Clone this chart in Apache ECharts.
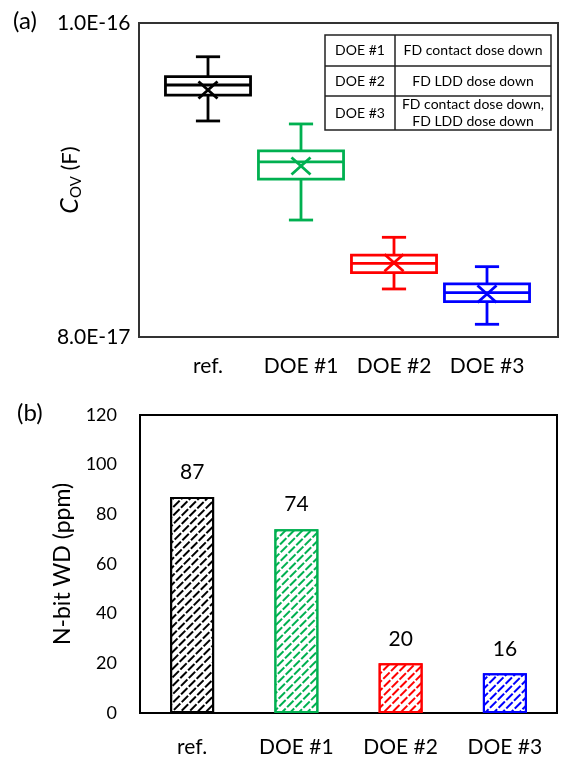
<!DOCTYPE html>
<html><head><meta charset="utf-8">
<script src="https://cdn.jsdelivr.net/npm/echarts@6/dist/echarts.min.js"></script>
<style>html,body{margin:0;padding:0;background:#fff}#c{width:563px;height:759px}</style>
</head><body><div id="c"></div>
<script>
// ---------- (a) C_OV box plot data (values in F) ----------
const boxCategories = ['ref.', 'DOE #1', 'DOE #2', 'DOE #3'];
const whiskerLow  = [9.376e-17, 8.745e-17, 8.306e-17, 8.081e-17];
const quartile1   = [9.541e-17, 9.006e-17, 8.410e-17, 8.225e-17];
const medians     = [9.605e-17, 9.115e-17, 8.469e-17, 8.283e-17];
const quartile3   = [9.658e-17, 9.185e-17, 8.522e-17, 8.338e-17];
const whiskerHigh = [9.785e-17, 9.357e-17, 8.635e-17, 8.448e-17];
const means       = [9.573e-17, 9.089e-17, 8.473e-17, 8.274e-17];
const covTicks    = [8.0e-17, 1.0e-16];

// ---------- legend table ----------
const doeNames = ['DOE #1', 'DOE #2', 'DOE #3'];
const doeDescriptions = ['FD contact dose down', 'FD LDD dose down', 'FD contact dose down,\nFD LDD dose down'];

// ---------- (b) N-bit WD bar data ----------
const wdCategories = ['ref.', 'DOE #1', 'DOE #2', 'DOE #3'];
const wdValues = [87, 74, 20, 16];
const wdTicks = [0, 20, 40, 60, 80, 100, 120];

// ---------- styles ----------
const seriesColors = ['#000000', '#00b050', '#ff0000', '#0000ff'];
const FONT = 'Lato';
const UNIT = 1e-17;
const toUnit = v => Math.round(v / UNIT * 10000) / 10000;

const boxData = boxCategories.map((c, i) => [i,
  toUnit(whiskerLow[i]), toUnit(quartile1[i]), toUnit(medians[i]),
  toUnit(quartile3[i]), toUnit(whiskerHigh[i]), toUnit(means[i])]);

function renderBox(params, api) {
  const x = api.value(0);
  const col = seriesColors[params.dataIndex];
  const band = api.size([1, 0])[0];
  const bw = band * 0.915, cw = band * 0.26;
  const p = k => api.coord([x, api.value(k)]);
  const lo = p(1), q1 = p(2), md = p(3), q3 = p(4), hi = p(5), mn = p(6);
  const cx = lo[0];
  const ls = { stroke: col, lineWidth: 2.8, fill: null };
  const line = (x1, y1, x2, y2) => ({ type: 'line', shape: { x1, y1, x2, y2 }, style: ls });
  const mx = 9.5, my = 8.5;
  return { type: 'group', children: [
    line(cx, q3[1], cx, hi[1]),
    line(cx, q1[1], cx, lo[1]),
    line(cx - cw / 2, hi[1], cx + cw / 2, hi[1]),
    line(cx - cw / 2, lo[1], cx + cw / 2, lo[1]),
    { type: 'rect', shape: { x: cx - bw / 2, y: q3[1], width: bw, height: q1[1] - q3[1] },
      style: { stroke: col, lineWidth: 2.8, fill: '#fff' } },
    line(cx - bw / 2, md[1], cx + bw / 2, md[1]),
    line(cx - mx, mn[1] - my, cx + mx, mn[1] + my),
    line(cx - mx, mn[1] + my, cx + mx, mn[1] - my)
  ]};
}

const barData = wdValues.map((v, i) => ({
  value: v,
  itemStyle: {
    color: '#ffffff', borderColor: seriesColors[i], borderWidth: 2,
    decal: { symbol: 'rect', symbolSize: 1, color: seriesColors[i],
      dashArrayX: [[9, 2], [4, 2, 5, 0]], dashArrayY: [2, 4], rotation: -Math.PI / 4 }
  }
}));

// table graphic
const T = { x: 325, y: 35, w: 226, h: 95, col: 395, rows: [66, 96] };
const rowCenters = [50.5, 81, 113];
const tableEls = [
  { type: 'rect', shape: { x: T.x, y: T.y, width: T.w, height: T.h }, style: { fill: '#fff', stroke: '#222', lineWidth: 1.5 } },
  { type: 'line', shape: { x1: T.col, y1: T.y, x2: T.col, y2: T.y + T.h }, style: { stroke: '#222', lineWidth: 1.5 } },
  ...T.rows.map(y => ({ type: 'line', shape: { x1: T.x, y1: y, x2: T.x + T.w, y2: y }, style: { stroke: '#222', lineWidth: 1.5 } }))
];
doeNames.forEach((n, i) => {
  tableEls.push({ type: 'text', x: (T.x + T.col) / 2, y: rowCenters[i],
    style: { text: n, fill: '#000', font: '14px ' + FONT, align: 'center', verticalAlign: 'middle', textAlign: 'center', textVerticalAlign: 'middle' } });
  tableEls.push({ type: 'text', x: (T.col + T.x + T.w) / 2, y: rowCenters[i],
    style: { text: doeDescriptions[i], fill: '#000', font: '14px ' + FONT, lineHeight: 17, align: 'center', verticalAlign: 'middle', textAlign: 'center', textVerticalAlign: 'middle' } });
});

const chart = echarts.init(document.getElementById('c'), null, { renderer: 'canvas' });
chart.setOption({
  backgroundColor: '#ffffff',
  animation: false,
  textStyle: { fontFamily: FONT },
  title: [
    { text: '(a)', left: 8, top: 4, textStyle: { fontSize: 24, fontWeight: 'normal', color: '#000', fontFamily: FONT } },
    { text: '(b)', left: 12, top: 396, textStyle: { fontSize: 24, fontWeight: 'normal', color: '#000', fontFamily: FONT } }
  ],
  grid: [
    { left: 139, top: 23, width: 419, height: 314, show: true, borderColor: '#333', borderWidth: 2, backgroundColor: 'transparent' },
    { left: 161.5, top: 23, width: 372, height: 314 },
    { left: 140, top: 415, width: 417, height: 298, show: true, borderColor: '#000', borderWidth: 2, backgroundColor: 'transparent' }
  ],
  xAxis: [
    { gridIndex: 0, type: 'value', show: false },
    { gridIndex: 1, type: 'category', data: boxCategories,
      axisLine: { show: false }, axisTick: { show: false },
      axisLabel: { interval: 0, fontSize: 21, color: '#000', margin: 19, fontFamily: FONT } },
    { gridIndex: 2, type: 'category', data: wdCategories,
      axisLine: { show: true, lineStyle: { color: '#000', width: 2 } }, axisTick: { show: false },
      axisLabel: { interval: 0, fontSize: 21, color: '#000', margin: 24, fontFamily: FONT } }
  ],
  yAxis: [
    { gridIndex: 0, type: 'value', show: false },
    { gridIndex: 1, type: 'value', min: toUnit(covTicks[0]), max: toUnit(covTicks[1]), interval: 2,
      axisLine: { show: false }, axisTick: { show: false }, splitLine: { show: false },
      axisLabel: { fontSize: 21, color: '#000', margin: 31, fontFamily: FONT,
        formatter: v => (v * UNIT).toExponential(1).toUpperCase() },
      name: '{c|C}{s|OV} {n|(F)}', nameLocation: 'middle', nameRotate: 90, nameGap: 78,
      nameMoveOverlap: false,
      nameTextStyle: { color: '#000', fontFamily: FONT, fontSize: 22,
        rich: { c: { fontSize: 25, fontStyle: 'italic', fontFamily: FONT, lineHeight: 28, color: '#000' },
                s: { fontSize: 15, fontFamily: FONT, verticalAlign: 'bottom', color: '#000' },
                n: { fontSize: 22, fontFamily: FONT, lineHeight: 28, color: '#000' } } } },
    { gridIndex: 2, type: 'value', min: wdTicks[0], max: wdTicks[wdTicks.length - 1], interval: 20,
      axisLine: { show: false }, axisTick: { show: false }, splitLine: { show: false },
      axisLabel: { fontSize: 18, color: '#000', margin: 23, fontFamily: FONT },
      name: 'N-bit WD (ppm)', nameLocation: 'middle', nameRotate: 90, nameGap: 66,
      nameTextStyle: { color: '#000', fontFamily: FONT, fontSize: 23 } }
  ],
  graphic: { elements: tableEls },
  series: [
    { type: 'custom', xAxisIndex: 1, yAxisIndex: 1, data: boxData,
      encode: { x: 0, y: [1, 2, 3, 4, 5, 6] }, renderItem: renderBox, z: 5 },
    { type: 'bar', xAxisIndex: 2, yAxisIndex: 2, data: barData, barWidth: 44,
      label: { show: true, position: 'top', distance: 14, fontSize: 21, color: '#000', fontFamily: FONT } }
  ]
});
</script></body></html>
